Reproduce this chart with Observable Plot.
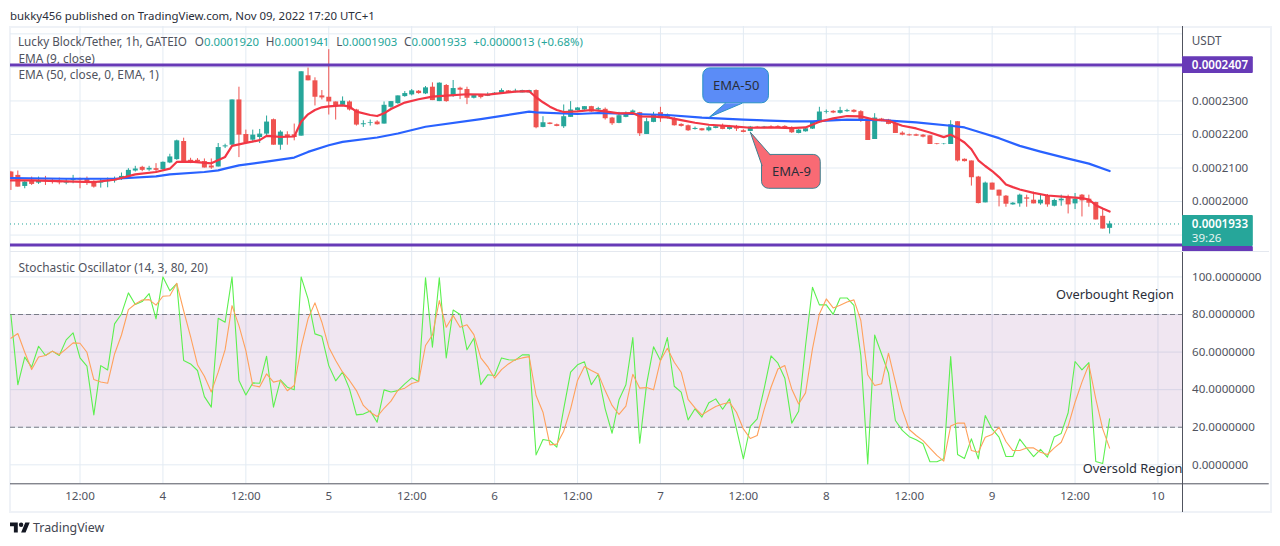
<!DOCTYPE html>
<html>
<head>
<meta charset="utf-8">
<script src="https://cdn.jsdelivr.net/npm/d3@7"></script>
<script src="https://cdn.jsdelivr.net/npm/@observablehq/plot@0.6"></script>
<style>
html,body{margin:0;padding:0;background:#fff;overflow:hidden}
#page{position:relative;width:1280px;height:546px;font-family:"Noto Sans",sans-serif;color:#50535e}
#page svg.plot-pane{position:absolute;left:0;background:none;max-width:none}
#frame{position:absolute;left:9px;top:26px;width:1259px;height:483px;border:2px solid #eff2f7}
#sep{position:absolute;left:10px;top:251px;width:1259px;height:1px;background:#e4e8ef}
#pub{position:absolute;left:10px;top:7px;font-size:11.45px;line-height:18px;color:#2a2e39;white-space:pre}
#ohlc{position:absolute;left:18px;top:32px;font-size:11.7px;line-height:18px;white-space:pre}
#ohlc b{font-weight:400;color:#26a69a;font-size:11.35px}
#ohlc i{font-style:normal;margin-left:6.8px}
#ohlc i:first-of-type{margin-left:8px}
#brand{position:absolute;left:10px;top:519px;font-size:12.4px;line-height:18px;color:#434651;display:flex;align-items:center;gap:3px}
</style>
</head>
<body>
<div id="page">
  <div id="frame"></div>
  <div id="pub">bukky456 published on TradingView.com, Nov 09, 2022 17:20 UTC+1</div>
  <div id="brand"><svg width="20" height="16" viewBox="0 0 36 28"><path fill="#131722" d="M14 22H7V11H0V4h14v18zM28 22h-8l7.5-18h8L28 22z"/><circle fill="#131722" cx="20" cy="8" r="4"/></svg><span>TradingView</span></div>
</div>
<script>
// Hours since Nov 3 2022 00:00; candles run hourly from 02:00 on Nov 3 to 17:00 on Nov 9
const firstHour = 2;
const open = [
2088,2078,2045,2060,2055,2063,2063,2060,2055,2063,
2068,2067,2060,2055,2059,2062,2066,2073,2091,2102,
2094,2098,2095,2115,2125,2179,2123,2123,2119,2106,
2103,2163,2168,2303,2200,2183,2191,2201,2244,2168,
2199,2199,2195,2375,2360,2315,2311,2297,2287,2297,
2273,2229,2233,2237,2231,2281,2292,2313,2318,2329,
2321,2341,2298,2346,2316,2338,2334,2308,2317,2314,
2321,2323,2330,2325,2324,2324,2331,2221,2234,2229,
2223,2251,2271,2273,2283,2273,2275,2249,2233,2251,
2264,2265,2200,2236,2265,2251,2245,2230,2226,2215,
2217,2211,2218,2224,2215,2222,2211,2209,2222,2219,
2222,2224,2224,2219,2203,2208,2216,2235,2266,2269,
2263,2268,2272,2268,2246,2185,2246,2243,2233,2204,
2199,2199,2198,2196,2172,2171,2170,2238,2126,2121,
2073,1996,2055,2034,2016,1990,1993,2011,2004,1993,
2015,1986,2002,2011,1993,2019,2007,1997,1956,1920];
const close = [
2070,2043,2058,2051,2060,2060,2060,2056,2060,2068,
2064,2058,2043,2058,2063,2065,2075,2093,2097,2093,
2099,2093,2117,2133,2181,2116,2116,2118,2100,2100,
2161,2166,2303,2198,2175,2198,2201,2237,2168,2207,
2193,2191,2387,2360,2311,2309,2297,2285,2299,2273,
2228,2232,2235,2229,2287,2298,2315,2322,2330,2322,
2339,2301,2353,2298,2337,2332,2308,2316,2310,2318,
2323,2331,2323,2329,2331,2331,2220,2235,2230,2224,
2253,2273,2279,2283,2267,2277,2247,2232,2256,2259,
2270,2202,2238,2257,2247,2256,2226,2224,2211,2218,
2211,2220,2223,2215,2222,2216,2206,2222,2220,2222,
2219,2221,2220,2205,2213,2217,2236,2267,2268,2264,
2271,2271,2266,2243,2182,2249,2239,2230,2203,2198,
2196,2195,2192,2170,2170,2172,2229,2121,2119,2071,
1994,2055,2034,2016,1992,1995,2019,2007,1993,2004,
1990,2003,2007,1990,2007,2002,1995,1945,1918,1933];
const high = [
2090,2091,2060,2073,2073,2075,2068,2070,2068,2078,
2070,2073,2062,2068,2070,2073,2085,2098,2105,2105,
2105,2113,2118,2141,2183,2189,2129,2128,2127,2127,
2173,2171,2303,2341,2213,2213,2215,2255,2246,2211,
2208,2231,2387,2398,2369,2331,2453,2297,2312,2300,
2275,2241,2243,2241,2297,2298,2315,2328,2334,2331,
2343,2354,2354,2349,2361,2341,2341,2318,2319,2324,
2325,2336,2331,2335,2332,2332,2333,2253,2235,2231,
2288,2298,2280,2283,2284,2281,2279,2251,2266,2267,
2273,2266,2248,2266,2281,2261,2250,2232,2228,2222,
2218,2225,2226,2231,2227,2227,2214,2224,2224,2224,
2226,2226,2226,2223,2215,2219,2238,2281,2273,2271,
2281,2275,2274,2271,2247,2262,2248,2245,2235,2208,
2201,2201,2200,2197,2173,2173,2241,2238,2127,2121,
2075,2058,2055,2034,2018,1997,2022,2019,2028,2019,
2021,2007,2019,2019,2024,2021,2019,1998,1976,1941];
const low = [
2033,2043,2038,2048,2051,2048,2052,2050,2050,2053,
2038,2048,2040,2040,2041,2055,2063,2071,2088,2089,
2090,2087,2093,2113,2123,2116,2113,2114,2100,2096,
2103,2158,2168,2131,2170,2175,2173,2197,2168,2153,
2168,2181,2195,2360,2285,2303,2258,2243,2283,2270,
2225,2221,2225,2228,2231,2278,2290,2311,2315,2320,
2319,2301,2298,2296,2311,2304,2289,2306,2306,2313,
2319,2321,2322,2324,2324,2324,2217,2220,2229,2223,
2218,2251,2270,2272,2266,2268,2243,2227,2232,2250,
2261,2194,2200,2235,2236,2246,2225,2222,2209,2213,
2210,2208,2217,2214,2213,2209,2205,2208,2218,2217,
2217,2219,2218,2203,2202,2207,2215,2233,2261,2262,
2261,2266,2264,2236,2182,2185,2238,2229,2203,2196,
2195,2194,2190,2170,2169,2169,2170,2118,2118,2046,
1993,1996,2034,1984,1983,1989,1983,1983,1993,1989,
1983,1984,1986,1963,1976,1954,1983,1945,1918,1903];

const stochK = [
79.8,42.6,57.3,52,63.1,58.2,60.5,58.2,66.5,70.2,
56.9,52.5,26.6,52.8,50.5,75,80.3,91.5,85.3,86.9,
91.1,77.7,100,92.6,96.5,55.5,53.7,50.2,36.3,30.7,
78,75.9,100,44.9,37.2,43.6,43.4,57.8,30.7,45.2,
41.3,39.9,100,88.3,69.7,68.4,52.8,44.7,49.3,40.4,
26.6,27,28.7,22.7,39.9,38.8,39.5,43.1,46.3,44.3,
99.6,62.6,99.6,56.9,82.4,80,61.2,67.4,42.7,47.9,
47.5,56.9,55.9,55.7,58.5,58.5,5.3,13.5,12.8,9.4,
29.8,49.3,53.2,54.8,42.6,48.2,29.8,16.8,34.6,42.6,
67.7,11.5,43.1,62.8,55.5,67.7,41.8,38.7,23.9,29.8,
25.4,33,35.1,29.6,35.1,19.1,3.2,20.4,24.5,40.4,
58,54.1,46.1,22.2,28.5,63.5,94.5,85.1,85.1,80.1,
88.8,88.8,84.8,58.2,0.5,69.1,59,48.9,23.6,18.3,
15,13.3,11.2,1.6,1.6,3.2,57.6,5.5,3.4,13.8,
3.2,26.2,19.1,14.7,4.4,4.4,13.7,8.9,4.4,8.2,
4.1,15,16.7,27.7,55,50.5,54.4,1.8,0.7,24.5];
const stochD = [
67.4,69.9,59.9,50.7,57.4,58.2,60.5,58.7,61.7,64.9,
64.7,59.9,45.4,44.1,43.4,59,69.1,82.6,85.6,87.7,
87.9,85,89.7,90,96.6,82,68.2,53.3,47.1,38.8,
49.3,61.3,84.7,74.1,60.8,42.2,41.5,48.4,44,44.9,
39.4,42.2,62.6,77.7,86.2,75.9,62.6,55.5,49.3,44.9,
39.5,31.6,28,25.7,30.1,33.9,39.7,40.8,43.3,44.3,
63.5,69.1,87.4,73.2,79.4,73.2,74.5,69.3,56.9,52.3,
46.1,50.7,53.7,56,56.9,57.6,36.9,28,10.6,11,
17.9,29.8,44.9,52.3,50.2,48.4,39.5,31.6,26.8,31.2,
48.2,40.8,41.1,39.9,55.5,62,54.6,49.3,34.8,30.3,
26.6,28.9,31,32.4,33.2,28,19.1,14,15.6,29.4,
41.3,51,52.8,40.4,32.4,38.3,61.7,80.3,88.3,83.5,
84.9,86.7,87.8,76.8,47.9,42.2,43.1,59.4,44,29.4,
18.8,15.6,12.9,8.9,5,2,20.6,22.2,22.2,7.6,
6.7,14.7,16.1,20,12.4,7.6,7.6,9,9,6.7,
5.5,9,12,20.6,33.3,44,53.4,35.1,19.1,8.9];

const ema9Hours = [2,5,10,14,17,20,23,25,26,28,31,33,34,36,38,39,41,43,44,45,46,47,48,50,51,52,54,55,56,57,59,61,63,65,68,71,75,77,78,79,80,81,82,84,86,88,90,92,93,95,97,99,101,103,106,109,112,115,117,119,121,123,125,127,129,131,133,135,137,138,139,140,141,142,143,144,145,146,147,148,150,152,155,157,158,159,160,161];
const ema9Values = [2063,2063,2060,2058,2065,2081,2088,2098,2118,2119,2114,2133,2166,2175,2183,2196,2193,2194,2238,2260,2273,2281,2284,2287,2283,2268,2258,2255,2263,2276,2295,2305,2313,2316,2320,2319,2328,2329,2311,2296,2283,2273,2267,2269,2273,2269,2263,2264,2254,2253,2251,2243,2235,2229,2225,2220,2221,2219,2221,2238,2248,2255,2254,2244,2241,2226,2218,2206,2192,2199,2189,2176,2156,2123,2106,2091,2073,2051,2043,2036,2026,2018,2013,2010,2006,1989,1979,1970];
const ema50Hours = [2,10,17,23,25,30,32,33,35,39,43,45,48,50,55,58,62,70,77,78,84,87,92,97,102,108,115,118,120,123,128,133,138,140,142,145,148,151,155,158,161];
const ema50Values = [2070,2068,2068,2075,2081,2088,2093,2098,2108,2119,2131,2148,2168,2178,2191,2203,2223,2246,2268,2266,2261,2264,2261,2258,2250,2244,2239,2239,2241,2244,2243,2236,2226,2221,2208,2189,2166,2149,2128,2113,2091];

const tickHours = [12,24,36,48,60,72,84,96,108,120,132,144,156,168];
const tickLabels = ["12:00","4","12:00","5","12:00","6","12:00","7","12:00","8","12:00","9","12:00","10"];
const priceGrid = [1900,2000,2100,2200,2300,2400,2500];
const priceTicks = [2000,2100,2200,2300];
const stochTicks = [0,20,40,60,80,100];
const levelLines = [2407,1870];
const lastPrice = 1933;
const ohlcLabels = ["O","H","L","C"];
const ohlcValues = ["0.0001920","0.0001941","0.0001903","0.0001933"];

const xDomain = [1.94, 171.55];
const xAxisEnd = 171.55, tagEnd = 181.8, paneEnd = 184.1, labelHour = 172.9;
const priceDomain = [1848, 2522];
const stochDomain = [-10.1, 113];

const candles = open.map((o,i)=>({h:firstHour+i,o,c:close[i],hi:high[i],lo:low[i]}));
const up = candles.filter(d=>d.c>=d.o), down = candles.filter(d=>d.c<d.o);
const zip = (xs,ys)=>xs.map((h,i)=>({h,v:ys[i]}));
const GREEN="#26a69a",RED="#ef5350",GRID="#e3ebf3",TXT="#50535e",PURPLE="#673ab7";
const font='"Noto Sans",sans-serif';
const fmt = d=>(d*1e-7).toFixed(7);

const candleMarks = (data,color)=>[
  Plot.ruleX(data,{x:"h",y1:"lo",y2:"hi",stroke:color,strokeWidth:1,clip:true}),
  Plot.ruleX(data,{x:"h",y1:"o",y2:"c",stroke:color,strokeWidth:5,clip:true})
];
const callout = (box,tail,fill,stroke,label)=>[
  Plot.rect([box],{x1:"x1",x2:"x2",y1:"y1",y2:"y2",rx:7,fill,stroke,strokeWidth:1}),
  Plot.line(tail,{x:"h",y:"v",fill,stroke:"none"}),
  Plot.line(tail,{x:"h",y:"v",stroke,strokeWidth:1}),
  Plot.text([label],{x:(box.x1+box.x2)/2,y:(box.y1+box.y2)/2,text:d=>d,fontSize:13,fill:"#2a2e39"})
];
const tag = (y1,y2,fill)=>Plot.rect([{y1,y2}],{x1:xAxisEnd,x2:tagEnd,y1:"y1",y2:"y2",fill,rx:1});

const topPane = Plot.plot({
  width:1280,height:226,marginLeft:10,marginRight:98,marginTop:0,marginBottom:0,
  x:{type:"linear",domain:xDomain,range:[10,1182],axis:null},
  y:{domain:priceDomain},
  style:{fontFamily:font,fontSize:"11.6px",background:"none"},
  marks:[
    Plot.gridX(tickHours,{stroke:GRID,strokeOpacity:1}),
    Plot.gridY(priceGrid,{stroke:GRID,strokeOpacity:1}),
    Plot.text(["EMA (9, close)"],{frameAnchor:"top-left",dx:8,dy:28,fill:TXT,fontSize:11.85}),
    Plot.text(["EMA (50, close, 0, EMA, 1)"],{frameAnchor:"top-left",dx:8,dy:44,fill:TXT,fontSize:11.85}),
    Plot.ruleY([lastPrice],{stroke:GREEN,strokeDasharray:"1,3"}),
    ...candleMarks(down,RED),
    ...candleMarks(up,GREEN),
    Plot.line(zip(ema50Hours,ema50Values),{x:"h",y:"v",stroke:"#2962ff",strokeWidth:2.2,clip:true}),
    Plot.line(zip(ema9Hours,ema9Values),{x:"h",y:"v",stroke:"#f23645",strokeWidth:2.2,clip:true}),
    Plot.ruleY(levelLines,{stroke:PURPLE,strokeWidth:3}),
    ...callout({x1:102.2,x2:111.7,y1:2293,y2:2397},[{h:105.4,v:2293},{h:103.1,v:2252},{h:107.8,v:2293}],"#5b8cf7","#2a93c4","EMA-50"),
    ...callout({x1:110.7,x2:119.2,y1:2038,y2:2139},[{h:110.7,v:2107},{h:109,v:2207},{h:111.9,v:2139}],"#f96a74","#3f7f8f","EMA-9"),
    Plot.ruleX([xAxisEnd],{stroke:TXT,strokeWidth:1}),
    Plot.axisY(priceTicks,{anchor:"right",tickSize:0,tickPadding:9.5,tickFormat:fmt,label:null,fill:TXT}),
    Plot.text(["USDT"],{x:labelHour,y:2477,textAnchor:"start",fill:TXT,fontSize:11.7}),
    tag(2382,2432,PURPLE),
    tag(1835,1866,PURPLE),
    Plot.text(["0.0001870"],{x:labelHour,y:1836,textAnchor:"start",fill:"#fff",fontWeight:600}),
    tag(1866,1958,GREEN),
    Plot.text(["0.0002407"],{x:labelHour,y:2407,textAnchor:"start",fill:"#fff",fontWeight:600}),
    Plot.text(["0.0001933"],{x:labelHour,y:1933,textAnchor:"start",fill:"#fff",fontWeight:600}),
    Plot.text(["39:26"],{x:labelHour,y:1889,textAnchor:"start",fill:"#e6f4f2"})
  ]
});
topPane.classList.add("plot-pane");
topPane.style.top="26px";

const botPane = Plot.plot({
  width:1280,height:260,marginLeft:10,marginRight:98,marginTop:0,marginBottom:28.7,
  x:{type:"linear",domain:xDomain,range:[10,1182]},
  y:{domain:stochDomain},
  style:{fontFamily:font,fontSize:"11.6px",background:"none"},
  marks:[
    Plot.gridX(tickHours,{stroke:GRID,strokeOpacity:1}),
    Plot.gridY(stochTicks,{stroke:GRID,strokeOpacity:1}),
    Plot.rectY([{y1:20,y2:80}],{y1:"y1",y2:"y2",fill:"#822f8a",fillOpacity:0.12}),
    Plot.ruleY([20,80],{stroke:"#787b86",strokeDasharray:"5,3"}),
    Plot.text(["Stochastic Oscillator (14, 3, 80, 20)"],{frameAnchor:"top-left",dx:8,dy:11,fill:TXT,fontSize:11.9}),
    Plot.line(stochK.map((v,i)=>({h:firstHour+i,v})),{x:"h",y:"v",stroke:"#5cf04f",strokeWidth:1.1,clip:true}),
    Plot.line(stochD.map((v,i)=>({h:firstHour+i,v})),{x:"h",y:"v",stroke:"#ffa15c",strokeWidth:1.1,clip:true}),
    Plot.text(["Overbought Region"],{x:170.3,y:90.6,textAnchor:"end",fill:"#2a2e39",fontSize:12.75}),
    Plot.text(["Oversold Region"],{x:xAxisEnd,y:-2,textAnchor:"end",fill:"#2a2e39",fontSize:12.85}),
    Plot.ruleX([xAxisEnd],{y1:stochDomain[1],y2:-25.4,stroke:TXT,strokeWidth:1}),
    Plot.ruleY([stochDomain[0]],{x1:xDomain[0],x2:paneEnd,stroke:TXT,strokeWidth:1}),
    Plot.axisY(stochTicks,{anchor:"right",tickSize:0,tickPadding:9.5,tickFormat:d=>d.toFixed(7),label:null,fill:TXT}),
    Plot.axisX(tickHours,{tickSize:0,tickPadding:8,tickFormat:d=>tickLabels[tickHours.indexOf(d)],label:null,fill:TXT})
  ]
});
botPane.classList.add("plot-pane");
botPane.style.top="252px";

const page = document.getElementById("page");
page.append(topPane,botPane);
const sep=document.createElement("div");sep.id="sep";page.append(sep);
const ohlc=document.createElement("div");ohlc.id="ohlc";
ohlc.innerHTML="Lucky Block/Tether, 1h, GATEIO"+ohlcLabels.map((l,i)=>"<i>"+l+"</i><b>"+ohlcValues[i]+"</b>").join("")+"<i></i><b>+0.0000013 (+0.68%)</b>";
page.append(ohlc);
</script>
</body>
</html>
